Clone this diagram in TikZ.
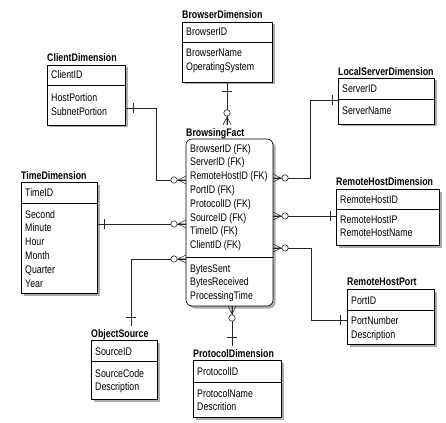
\documentclass[tikz,border=0pt]{standalone}
\usepackage{fontspec}
\setmainfont{Liberation Sans}[FakeStretch=0.8]
\usetikzlibrary{shadows,calc}
\newcommand\attrs[4]{\foreach \t [count=\i from 0] in {#4} {\node[erow] (#1\i) at (#2,{#3+13.8*\i}) {\t};}}
\newcommand\crowfoot[2]{\begin{scope}[shift={#1},rotate=#2]
  \draw[sym] (-8,0) -- (0,-4) (-8,0) -- (0,4) (-8,0) -- (0,0);
  \draw[sym,fill=white] (-12,0) circle (3.2);
\end{scope}}
\begin{document}
\begin{tikzpicture}[x=1pt,y=-1pt,
  ebox/.style={draw=black, line width=0.6pt, fill=white, anchor=north west, inner sep=0pt, outer sep=0pt,
    drop shadow={shadow xshift=2.5pt, shadow yshift=-2.5pt, fill=gray!65, opacity=1}},
  etitle/.style={anchor=base west, inner sep=0pt, font=\fontsize{11}{13}\selectfont\bfseries},
  erow/.style={anchor=base west, inner sep=0pt, font=\fontsize{11}{13}\selectfont},
  sepline/.style={line width=0.6pt},
  conn/.style={line width=0.75pt, draw=black!85},
  sym/.style={line width=0.6pt, draw=black!85},
]
\useasboundingbox (0,0) rectangle (446,422);

% ---------- BrowserDimension
\node[ebox, minimum width=90pt, minimum height=60pt] (browser) at (182,22) {};
\draw[sepline] ($(browser.north west)+(0,20)$) -- ($(browser.north east)+(0,20)$);
\node[etitle] (browserT) at (182,19) {BrowserDimension};
\attrs{br}{186}{36}{BrowserID}
\attrs{bra}{186}{57}{BrowserName,OperatingSystem}

% ---------- ClientDimension
\node[ebox, minimum width=78pt, minimum height=60pt] (client) at (47,65) {};
\draw[sepline] ($(client.north west)+(0,20)$) -- ($(client.north east)+(0,20)$);
\node[etitle] (clientT) at (47,62) {ClientDimension};
\attrs{cl}{51}{79}{ClientID}
\attrs{cla}{51}{102}{HostPortion,SubnetPortion}

% ---------- LocalServerDimension
\node[ebox, minimum width=96pt, minimum height=46pt] (local) at (338,78) {};
\draw[sepline] ($(local.north west)+(0,21)$) -- ($(local.north east)+(0,21)$);
\node[etitle] (localT) at (338,75.5) {LocalServerDimension};
\attrs{ls}{342}{92.5}{ServerID}
\attrs{lsa}{342}{115}{ServerName}

% ---------- BrowsingFact
\node[ebox, rounded corners=6pt, minimum width=87pt, minimum height=167pt] (fact) at (186,139) {};
\draw[sepline] ($(fact.north west)+(0,118)$) -- ($(fact.north east)+(0,118)$);
\node[etitle] (factT) at (186,136) {BrowsingFact};
\attrs{fk}{190}{152}{BrowserID (FK),ServerID (FK),RemoteHostID (FK),PortID (FK),ProtocolID (FK),SourceID (FK),TimeID (FK),ClientID (FK)}
\attrs{fa}{190}{272}{BytesSent,BytesReceived,ProcessingTime}

% ---------- TimeDimension
\node[ebox, minimum width=76pt, minimum height=111pt] (time) at (21,182) {};
\draw[sepline] ($(time.north west)+(0,21)$) -- ($(time.north east)+(0,21)$);
\node[etitle] (timeT) at (21,179) {TimeDimension};
\attrs{ti}{25}{196}{TimeID}
\attrs{tia}{25}{218}{Second,Minute,Hour,Month,Quarter,Year}

% ---------- RemoteHostDimension
\node[ebox, minimum width=103pt, minimum height=56pt] (remote) at (336,189) {};
\draw[sepline] ($(remote.north west)+(0,20)$) -- ($(remote.north east)+(0,20)$);
\node[etitle] (remoteT) at (336,185.5) {RemoteHostDimension};
\attrs{rh}{340}{203}{RemoteHostID}
\attrs{rha}{340}{223}{RemoteHostIP,RemoteHostName}

% ---------- RemoteHostPort
\node[ebox, minimum width=87pt, minimum height=55pt] (port) at (347,289) {};
\draw[sepline] ($(port.north west)+(0,21)$) -- ($(port.north east)+(0,21)$);
\node[etitle] (portT) at (347,285.5) {RemoteHostPort};
\attrs{rp}{351}{304}{PortID}
\attrs{rpa}{351}{324.5}{PortNumber,Description}

% ---------- ObjectSource
\node[ebox, minimum width=66pt, minimum height=59pt] (object) at (91,340) {};
\draw[sepline] ($(object.north west)+(0,21)$) -- ($(object.north east)+(0,21)$);
\node[etitle] (objectT) at (91,337) {ObjectSource};
\attrs{os}{95}{355}{SourceID}
\attrs{osa}{95}{377}{SourceCode,Description}

% ---------- ProtocolDimension
\node[ebox, minimum width=88pt, minimum height=57pt] (proto) at (193,360) {};
\draw[sepline] ($(proto.north west)+(0,22)$) -- ($(proto.north east)+(0,22)$);
\node[etitle] (protoT) at (193,357) {ProtocolDimension};
\attrs{pr}{197}{375}{ProtocolID}
\attrs{pra}{197}{397}{ProtocolName,Descrition}

% ---------- connectors
% Browser -> Fact
\coordinate (b1) at ($(browser.south |- factT.north)+(0,-3)$);
\draw[conn] (browser.south) -- (b1);
\draw[sym] (222,91) -- (232,91);
\crowfoot{(b1)}{-90}

% Client -> Fact
\coordinate (c0) at ($(client.north east)+(0,43)$);
\coordinate (c1) at (156,108);
\coordinate (c2) at (156,180);
\coordinate (c3) at (c2 -| fact.west);
\draw[conn] (c0) -- (c1) -- (c2) -- (c3);
\draw[sym] (133,103) -- (133,113);
\crowfoot{(c3)}{0}

% Time -> Fact
\coordinate (t0) at ($(time.north east)+(0,42)$);
\coordinate (t1) at (t0 -| fact.west);
\draw[conn] (t0) -- (t1);
\draw[sym] (104,219) -- (104,229);
\crowfoot{(t1)}{0}

% ObjectSource -> Fact
\coordinate (o0) at ($(fact.north west)+(0,120)$);
\coordinate (o1) at (131,259);
\coordinate (o2) at ($(o1 |- objectT.north)+(0,-3)$);
\draw[conn] (o0) -- (o1) -- (o2);
\draw[sym] (126,317) -- (136,317);
\crowfoot{(o0)}{0}

% Protocol -> Fact
\coordinate (p0) at ($(fact.south west)+(46,0)$);
\coordinate (p1) at ($(p0 |- protoT.north)+(0,-3)$);
\draw[conn] (p0) -- (p1);
\draw[sym] (227,337) -- (237,337);
\crowfoot{(p0)}{90}

% LocalServer -> Fact
\coordinate (l0) at ($(fact.north east)+(0,39)$);
\coordinate (l1) at (310,178);
\coordinate (l2) at (310,100);
\coordinate (l3) at (l2 -| local.west);
\draw[conn] (l0) -- (l1) -- (l2) -- (l3);
\draw[sym] (332,95) -- (332,105);
\crowfoot{(l0)}{180}

% RemoteHost -> Fact
\coordinate (r0) at ($(fact.north east)+(0,77)$);
\coordinate (r1) at (r0 -| remote.west);
\draw[conn] (r0) -- (r1);
\draw[sym] (330,211) -- (330,221);
\crowfoot{(r0)}{180}

% Port -> Fact
\coordinate (q0) at ($(fact.north east)+(0,109)$);
\coordinate (q1) at (311,248);
\coordinate (q2) at (311,320);
\coordinate (q3) at (q2 -| port.west);
\draw[conn] (q0) -- (q1) -- (q2) -- (q3);
\draw[sym] (340,315) -- (340,325);
\crowfoot{(q0)}{180}
\end{tikzpicture}
\end{document}
